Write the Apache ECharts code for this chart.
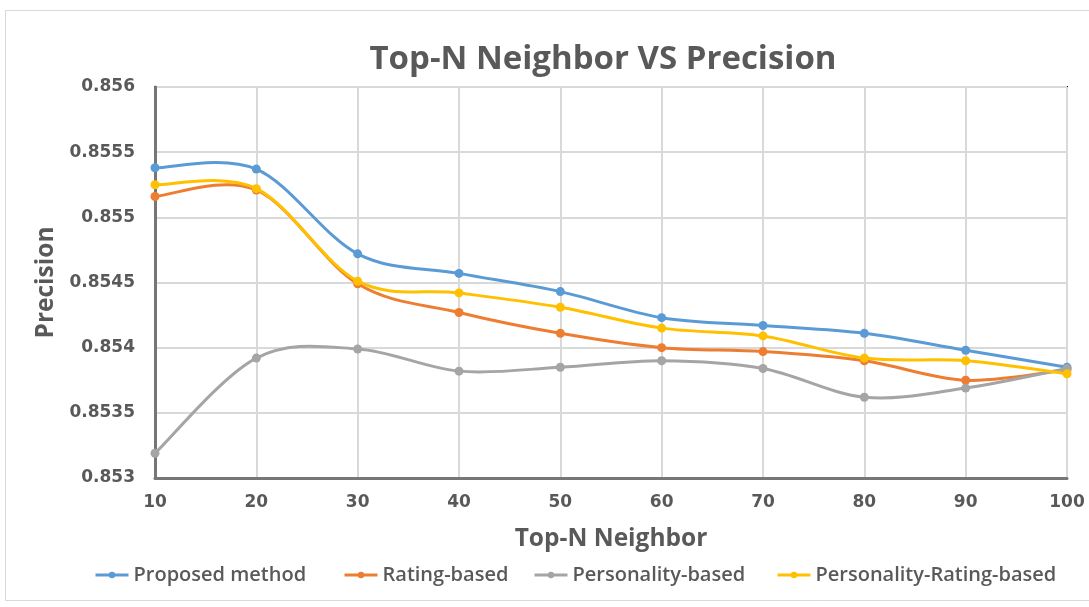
<!DOCTYPE html>
<html>
<head>
<meta charset="utf-8">
<script src="https://cdn.jsdelivr.net/npm/echarts@6/dist/echarts.min.js"></script>
<style>
  html, body { margin: 0; padding: 0; background: #fff; }
  #chart { width: 1089px; height: 607px; }
</style>
</head>
<body>
<div id="chart"></div>
<script>
// Neighborhood sizes on the x axis
const neighbors = ['10', '20', '30', '40', '50', '60', '70', '80', '90', '100'];

// Precision of each method per neighborhood size
const proposedMethod = [0.85538, 0.85537, 0.85472, 0.85457, 0.85443, 0.85423, 0.85417, 0.85411, 0.85398, 0.85385];
const ratingBased = [0.85516, 0.85521, 0.85449, 0.85427, 0.85411, 0.85400, 0.85397, 0.85390, 0.85375, 0.85383];
const personalityBased = [0.85319, 0.85392, 0.85399, 0.85382, 0.85385, 0.85390, 0.85384, 0.85362, 0.85369, 0.85384];
const personalityRatingBased = [0.85525, 0.85522, 0.85451, 0.85442, 0.85431, 0.85415, 0.85409, 0.85392, 0.85390, 0.85380];

const seriesNames = ['Proposed method', 'Rating-based', 'Personality-based', 'Personality-Rating-based'];
const seriesColors = ['#5B9BD5', '#ED7D31', '#A5A5A5', '#FFC000'];
const seriesValues = [proposedMethod, ratingBased, personalityBased, personalityRatingBased];

const TEXT = '#595959';
const legendLeft = [94, 343, 533, 776];

// Cardinal-spline segment between point k and k+1 (tangent = (next - prev) / 6),
// positioned through the axis scales via api.coord.
function smoothSegment(values, color) {
  return function (params, api) {
    const k = params.dataIndex;
    const n = values.length;
    if (k >= n - 1) return null;
    const pt = i => {
      const j = Math.max(0, Math.min(n - 1, i));
      return api.coord([j, values[j]]);
    };
    const p0 = pt(k - 1), p1 = pt(k), p2 = pt(k + 1), p3 = pt(k + 2);
    return {
      type: 'bezierCurve',
      shape: {
        x1: p1[0], y1: p1[1],
        x2: p2[0], y2: p2[1],
        cpx1: p1[0] + (p2[0] - p0[0]) / 6, cpy1: p1[1] + (p2[1] - p0[1]) / 6,
        cpx2: p2[0] - (p3[0] - p1[0]) / 6, cpy2: p2[1] - (p3[1] - p1[1]) / 6
      },
      style: { stroke: color, lineWidth: 3, fill: null, lineCap: 'round' }
    };
  };
}

const markerSeries = seriesNames.map((name, i) => ({
  name: name,
  type: 'line',
  data: seriesValues[i],
  symbol: 'circle',
  symbolSize: 9,
  color: seriesColors[i],
  lineStyle: { width: 3, color: seriesColors[i], opacity: 0 },
  itemStyle: { color: seriesColors[i] },
  z: 11 + 2 * i
}));

const curveSeries = seriesNames.map((name, i) => ({
  name: name,
  type: 'custom',
  data: seriesValues[i].map((v, k) => [k, v]),
  encode: { x: 0, y: 1 },
  renderItem: smoothSegment(seriesValues[i], seriesColors[i]),
  z: 10 + 2 * i
}));

const chart = echarts.init(document.getElementById('chart'));

chart.setOption({
  backgroundColor: '#fff',
  animation: false,
  title: {
    text: 'Top-N Neighbor VS Precision',
    left: 598,
    textAlign: 'center',
    top: 38,
    textStyle: { fontFamily: 'Open Sans', fontWeight: 'bold', fontSize: 33, color: TEXT }
  },
  graphic: [{
    type: 'rect',
    shape: { x: 5.5, y: 10.5, width: 1100, height: 590 },
    style: { fill: 'none', stroke: '#D9D9D9', lineWidth: 1 },
    silent: true
  }],
  legend: seriesNames.map((name, i) => ({
    data: [name],
    left: legendLeft[i],
    top: 565,
    padding: 0,
    itemWidth: 33,
    itemHeight: 8,
    itemGap: 4,
    lineStyle: { opacity: 1, width: 3 },
    textStyle: { fontFamily: 'Open Sans', fontWeight: 600, fontSize: 20, color: TEXT }
  })),
  grid: {
    left: 155, right: 22, top: 87, bottom: 129,
    show: true, borderColor: '#000', borderWidth: 2
  },
  xAxis: {
    type: 'category',
    data: neighbors,
    boundaryGap: false,
    name: 'Top-N Neighbor',
    nameLocation: 'middle',
    nameGap: 49,
    nameTextStyle: { fontFamily: 'Open Sans', fontWeight: 'bold', fontSize: 24.5, color: TEXT },
    axisLine: { lineStyle: { color: '#767676', width: 3 } },
    axisTick: { show: false },
    axisLabel: { fontFamily: 'DejaVu Sans', fontWeight: 'bold', fontSize: 17, color: TEXT, margin: 16 },
    splitLine: { show: true, lineStyle: { color: '#D9D9D9', width: 2 } }
  },
  yAxis: {
    type: 'value',
    min: 0.853,
    max: 0.856,
    interval: 0.0005,
    name: 'Precision',
    nameLocation: 'middle',
    nameGap: 91,
    nameTextStyle: { fontFamily: 'Open Sans', fontWeight: 'bold', fontSize: 24.5, color: TEXT },
    axisLine: { show: true, lineStyle: { color: '#767676', width: 3 } },
    axisTick: { show: false },
    axisLabel: {
      fontFamily: 'DejaVu Sans', fontWeight: 'bold', fontSize: 17, color: TEXT, margin: 20,
      formatter: v => String(parseFloat(v.toFixed(4)))
    },
    splitLine: { lineStyle: { color: '#D9D9D9', width: 2 } }
  },
  series: markerSeries.concat(curveSeries)
});
</script>
</body>
</html>
